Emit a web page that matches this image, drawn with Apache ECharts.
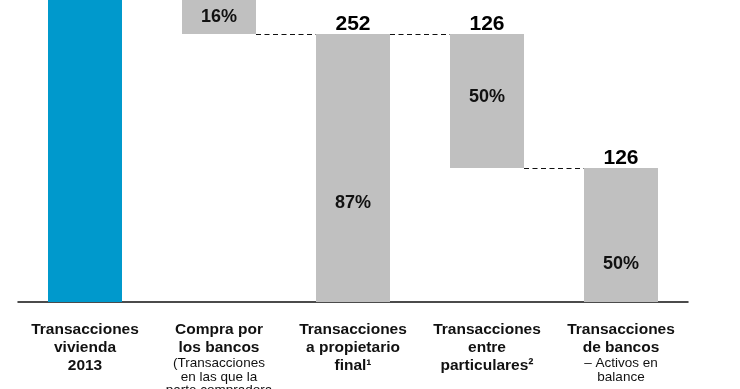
<!DOCTYPE html>
<html>
<head>
<meta charset="utf-8">
<script src="https://cdn.jsdelivr.net/npm/echarts@6/dist/echarts.min.js"></script>
<style>html,body{margin:0;padding:0;background:#fff}#c{width:740px;height:389px}</style>
</head>
<body>
<div id="c"></div>
<script>
// ---- data ----
const categoryTitles = ['Transacciones\nvivienda\n2013', 'Compra por\nlos bancos', 'Transacciones\na propietario\nfinal\u00B9', 'Transacciones\nentre\nparticulares\u00B2', 'Transacciones\nde bancos'];
const categoryNotes = ['', '(Transacciones\nen las que la\nparte compradora', '', '', '\u2013 Activos en\nbalance'];
const values = [300, 48, 252, 126, 126];
const bases = [0, 252, 0, 126, 0];
const valueLabels = ['', '', '252', '126', '126'];
const pctLabels = ['', '16%', '87%', '50%', '50%'];
const connectors = [[1, 252], [2, 252], [3, 126]]; // [from category index, level]

// ---- layout/style ----
const colors = ['#0099CC', '#C0C0C0', '#C0C0C0', '#C0C0C0', '#C0C0C0'];
const pctPos = [54, 50, 63, 47, 72];
const BAR_W = 74;
const FONT = '"Liberation Sans", Arial, sans-serif';

const chart = echarts.init(document.getElementById('c'), null, {renderer: 'canvas'});
const option = {
  animation: false,
  backgroundColor: '#fff',
  grid: {left: 18, right: 52, top: 0, bottom: 87, containLabel: false, outerBoundsMode: 'none'},
  xAxis: {
    type: 'category',
    data: categoryTitles,
    axisTick: {show: false},
    axisLine: {lineStyle: {color: '#111', width: 1.5}},
    axisLabel: {
      interval: 0,
      margin: 19,
      formatter: function (v, i) {
        const t = categoryTitles[i].split('\n').map(s => '{b|' + s + '}');
        const n = categoryNotes[i] ? categoryNotes[i].split('\n').map(s => '{r|' + s + '}') : [];
        return t.concat(n).join('\n');
      },
      rich: {
        b: {fontFamily: FONT, fontWeight: 'bold', fontSize: 15.5, lineHeight: 18, color: '#111', align: 'center'},
        r: {fontFamily: FONT, fontSize: 13.5, lineHeight: 13.5, color: '#111', align: 'center'}
      }
    }
  },
  yAxis: {type: 'value', min: 0, max: 284, show: false, splitLine: {show: false}},
  series: [
    {
      type: 'bar', stack: 'w', barWidth: BAR_W, silent: true,
      itemStyle: {color: 'transparent'},
      data: bases
    },
    {
      type: 'bar', stack: 'w', barWidth: BAR_W, clip: true,
      data: values.map((v, i) => ({
        value: v,
        itemStyle: {color: colors[i]},
        label: {
          show: !!pctLabels[i],
          position: ['50%', pctPos[i] + '%'],
          align: 'center', verticalAlign: 'middle',
          formatter: pctLabels[i],
          fontFamily: FONT, fontWeight: 'bold', fontSize: 18, color: '#111'
        }
      })),
      markPoint: {
        symbol: 'rect', symbolSize: 0, silent: true,
        label: {show: true, position: 'top', distance: -1, color: '#000', fontFamily: FONT, fontWeight: 'bold', fontSize: 21,
          formatter: p => p.name},
        data: valueLabels.map((t, i) => t ? {name: t, coord: [i, bases[i] + values[i]]} : null).filter(Boolean)
      }
    },
    {
      type: 'custom', silent: true, z: 5,
      data: connectors,
      renderItem: function (params, api) {
        const a = api.coord([api.value(0), api.value(1)]);
        const b = api.coord([api.value(0) + 1, api.value(1)]);
        const y = Math.round(a[1]) + 0.5;
        return {
          type: 'line',
          shape: {x1: a[0] + BAR_W / 2, y1: y, x2: b[0] - BAR_W / 2, y2: y},
          style: {stroke: '#111', lineWidth: 1, lineDash: [5, 3.5]}
        };
      }
    }
  ]
};
chart.setOption(option);
</script>
</body>
</html>
